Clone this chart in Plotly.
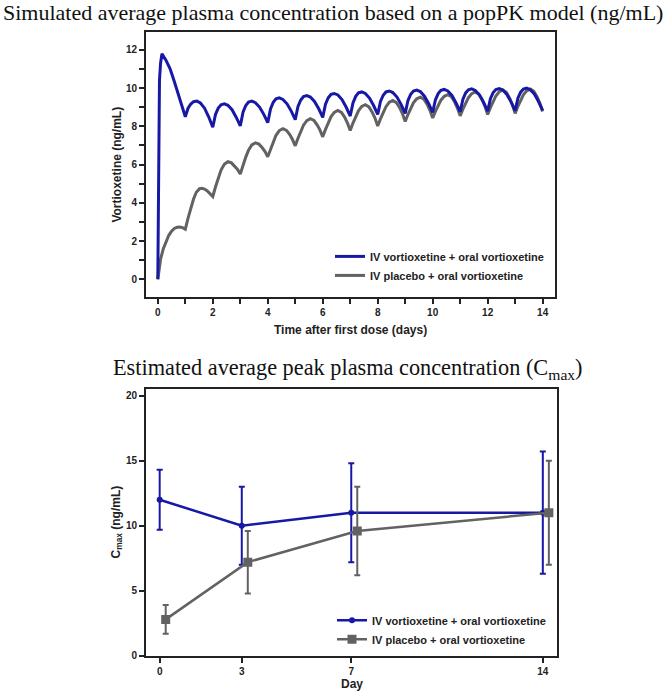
import plotly.graph_objects as go

# ---------------- Data: simulated concentration (top panel) ----------------
t_iv = [0, 0.03, 0.06, 0.1, 0.15, 0.3, 0.45, 0.6, 0.75, 0.9,
        1.0, 1.1, 1.2, 1.3, 1.42, 1.55, 1.7, 1.85,
        2.0, 2.1, 2.2, 2.3, 2.42, 2.55, 2.7, 2.85,
        3.0, 3.1, 3.2, 3.3, 3.42, 3.55, 3.7, 3.85,
        4.0, 4.1, 4.2, 4.3, 4.42, 4.55, 4.7, 4.85,
        5.0, 5.1, 5.2, 5.3, 5.42, 5.55, 5.7, 5.85,
        6.0, 6.1, 6.2, 6.3, 6.42, 6.55, 6.7, 6.85,
        7.0, 7.1, 7.2, 7.3, 7.42, 7.55, 7.7, 7.85,
        8.0, 8.1, 8.2, 8.3, 8.42, 8.55, 8.7, 8.85,
        9.0, 9.1, 9.2, 9.3, 9.42, 9.55, 9.7, 9.85,
        10.0, 10.1, 10.2, 10.3, 10.42, 10.55, 10.7, 10.85,
        11.0, 11.1, 11.2, 11.3, 11.42, 11.55, 11.7, 11.85,
        12.0, 12.1, 12.2, 12.3, 12.42, 12.55, 12.7, 12.85,
        13.0, 13.1, 13.2, 13.3, 13.42, 13.55, 13.7, 13.85,
        14.0]
c_iv = [0, 6.0, 10.4, 11.3, 11.8, 11.45, 11.0, 10.35, 9.65, 8.95,
        8.5, 8.95, 9.17, 9.29, 9.32, 9.22, 8.95, 8.5,
        7.95, 8.63, 8.96, 9.13, 9.18, 9.1, 8.87, 8.48,
        8.02, 8.74, 9.09, 9.27, 9.32, 9.24, 9.01, 8.64,
        8.19, 8.91, 9.26, 9.44, 9.49, 9.41, 9.18, 8.81,
        8.35, 9.04, 9.38, 9.56, 9.61, 9.53, 9.3, 8.93,
        8.47, 9.16, 9.5, 9.67, 9.72, 9.64, 9.4, 9.01,
        8.54, 9.23, 9.57, 9.75, 9.8, 9.72, 9.48, 9.09,
        8.62, 9.3, 9.63, 9.8, 9.85, 9.77, 9.53, 9.15,
        8.68, 9.35, 9.68, 9.85, 9.9, 9.82, 9.58, 9.2,
        8.73, 9.39, 9.71, 9.88, 9.93, 9.85, 9.62, 9.23,
        8.77, 9.42, 9.75, 9.91, 9.96, 9.88, 9.65, 9.26,
        8.8, 9.45, 9.77, 9.93, 9.98, 9.9, 9.67, 9.28,
        8.82, 9.47, 9.79, 9.95, 10.0, 9.92, 9.69, 9.3,
        8.84]

t_pbo = [0, 0.05, 0.1, 0.2, 0.3, 0.4, 0.5, 0.6, 0.7, 0.8, 0.9,
         1.0, 1.1, 1.2, 1.3, 1.4, 1.52, 1.6, 1.7, 1.8, 1.9,
         2.0, 2.1, 2.2, 2.3, 2.42, 2.55, 2.68, 2.8, 2.9,
         3.0, 3.1, 3.2, 3.3, 3.42, 3.55, 3.68, 3.8, 3.9,
         4.0, 4.1, 4.2, 4.3, 4.42, 4.55, 4.68, 4.8, 4.9,
         5.0, 5.1, 5.2, 5.3, 5.42, 5.55, 5.68, 5.8, 5.9,
         6.0, 6.1, 6.2, 6.3, 6.42, 6.55, 6.68, 6.8, 6.9,
         7.0, 7.1, 7.2, 7.3, 7.42, 7.55, 7.68, 7.8, 7.9,
         8.0, 8.1, 8.2, 8.3, 8.42, 8.55, 8.68, 8.8, 8.9,
         9.0, 9.1, 9.2, 9.3, 9.42, 9.55, 9.68, 9.8, 9.9,
         10.0, 10.1, 10.2, 10.3, 10.42, 10.55, 10.68, 10.8, 10.9,
         11.0, 11.1, 11.2, 11.3, 11.42, 11.55, 11.68, 11.8, 11.9,
         12.0, 12.1, 12.2, 12.3, 12.42, 12.55, 12.68, 12.8, 12.9,
         13.0, 13.1, 13.2, 13.3, 13.42, 13.55, 13.68, 13.8, 13.9,
         14.0]
c_pbo = [0, 0.65, 1.05, 1.6, 2.0, 2.3, 2.52, 2.66, 2.72, 2.73, 2.7,
         2.62, 3.2, 3.75, 4.2, 4.55, 4.74, 4.76, 4.72, 4.62, 4.49,
         4.33, 4.84, 5.31, 5.71, 6.02, 6.15, 6.09, 5.93, 5.75,
         5.51, 5.97, 6.39, 6.75, 7.03, 7.14, 7.07, 6.88, 6.68,
         6.41, 6.82, 7.2, 7.53, 7.78, 7.88, 7.79, 7.57, 7.31,
         6.98, 7.38, 7.75, 8.06, 8.3, 8.4, 8.31, 8.07, 7.8,
         7.45, 7.84, 8.2, 8.5, 8.73, 8.83, 8.73, 8.47, 8.17,
         7.79, 8.17, 8.51, 8.81, 9.04, 9.13, 9.02, 8.74, 8.43,
         8.02, 8.39, 8.74, 9.03, 9.26, 9.35, 9.24, 8.97, 8.66,
         8.26, 8.62, 8.95, 9.23, 9.44, 9.53, 9.42, 9.15, 8.84,
         8.44, 8.78, 9.1, 9.37, 9.57, 9.66, 9.55, 9.27, 8.96,
         8.55, 8.9, 9.23, 9.5, 9.71, 9.8, 9.68, 9.39, 9.06,
         8.62, 8.98, 9.31, 9.59, 9.81, 9.9, 9.78, 9.47, 9.13,
         8.68, 9.04, 9.37, 9.65, 9.86, 9.95, 9.83, 9.54, 9.21,
         8.78]

top_xticks = [0, 2, 4, 6, 8, 10, 12, 14]
top_yticks = [0, 2, 4, 6, 8, 10, 12]

# ---------------- Data: Cmax (bottom panel) ----------------
days = [0, 3, 7, 14]
cmax_iv = [12.0, 10.0, 11.0, 11.0]
cmax_iv_sd = [2.3, 3.0, 3.8, 4.7]
cmax_pbo = [2.8, 7.2, 9.6, 11.0]
cmax_pbo_sd = [1.1, 2.4, 3.4, 4.0]
bottom_yticks = [0, 5, 10, 15, 20]

name_iv = "IV vortioxetine + oral vortioxetine"
name_pbo = "IV placebo + oral vortioxetine"

BLUE = "#1818a6"
GRAY = "#626262"
PBO_OFFSET = 0.22  # horizontal offset used to separate the two series

fig = go.Figure()

fig.add_trace(go.Scatter(x=t_pbo, y=c_pbo, mode="lines", name=name_pbo,
                         line=dict(color=GRAY, width=3),
                         xaxis="x", yaxis="y", legend="legend", legendrank=2))
fig.add_trace(go.Scatter(x=t_iv, y=c_iv, mode="lines", name=name_iv,
                         line=dict(color=BLUE, width=3),
                         xaxis="x", yaxis="y", legend="legend", legendrank=1))

fig.add_trace(go.Scatter(x=days, y=cmax_iv, mode="lines+markers", name=name_iv,
                         line=dict(color=BLUE, width=2.5),
                         marker=dict(symbol="circle", size=6, color=BLUE),
                         error_y=dict(type="data", array=cmax_iv_sd, visible=True,
                                      color=BLUE, thickness=2, width=3),
                         xaxis="x2", yaxis="y2", legend="legend2", legendrank=1))
fig.add_trace(go.Scatter(x=[d + PBO_OFFSET for d in days], y=cmax_pbo,
                         mode="lines+markers", name=name_pbo,
                         line=dict(color=GRAY, width=2.5),
                         marker=dict(symbol="square", size=9, color=GRAY),
                         error_y=dict(type="data", array=cmax_pbo_sd, visible=True,
                                      color=GRAY, thickness=2, width=3),
                         xaxis="x2", yaxis="y2", legend="legend2", legendrank=2))

W, H = 666, 699
def px(x):
    return x / W
def py(y):
    return 1 - y / H

tickfont = dict(family="Liberation Sans, Arial, sans-serif", size=10, color="#222", weight="bold")
axis_common = dict(showline=True, linecolor="#222", linewidth=2, mirror=True,
                   ticks="outside", ticklen=5, tickwidth=1.5, tickcolor="#222",
                   showgrid=False, zeroline=False, tickfont=tickfont)

fig.update_layout(
    width=W, height=H,
    margin=dict(l=0, r=0, t=0, b=0),
    paper_bgcolor="white", plot_bgcolor="white",
    xaxis=dict(domain=[px(146), px(555)], anchor="y", range=[-0.43, 14.45],
               tickmode="array", tickvals=top_xticks,
               minor=dict(dtick=1, ticks="outside", ticklen=5, tickwidth=1.5, tickcolor="#222", showgrid=False),
               **axis_common),
    yaxis=dict(domain=[py(300), py(32)], anchor="x", range=[-0.95, 12.95],
               tickmode="array", tickvals=top_yticks,
               minor=dict(dtick=1, ticks="outside", ticklen=5, tickwidth=1.5, tickcolor="#222", showgrid=False),
               **axis_common),
    xaxis2=dict(domain=[px(146), px(556.5)], anchor="y2", range=[-0.5, 14.5],
                tickmode="array", tickvals=days, **axis_common),
    yaxis2=dict(domain=[py(661.5), py(392.5)], anchor="x2", range=[0, 20.5],
                tickmode="array", tickvals=bottom_yticks, **axis_common),
    legend=dict(x=px(330), y=py(244), xanchor="left", yanchor="top",
                bgcolor="rgba(0,0,0,0)", traceorder="normal",
                font=dict(family="Liberation Sans, Arial, sans-serif", size=11, color="#222", weight="bold")),
    legend2=dict(x=px(332), y=py(611), xanchor="left", yanchor="top",
                 bgcolor="rgba(0,0,0,0)", traceorder="normal",
                 font=dict(family="Liberation Sans, Arial, sans-serif", size=11, color="#222", weight="bold")),
)

title_font = dict(family="Liberation Serif, Times New Roman, serif", size=22, color="#111")
label_font = dict(family="Liberation Sans, Arial, sans-serif", size=12, color="#222")

annotations = [
    dict(text="Simulated average plasma concentration based on a popPK model (ng/mL)",
         x=0.5, y=py(13), xref="paper", yref="paper", xanchor="center", yanchor="middle",
         showarrow=False, font=title_font),
    dict(text="Estimated average peak plasma concentration (C<sub>max</sub>)",
         x=px(348), y=py(372), xref="paper", yref="paper", xanchor="center", yanchor="middle",
         showarrow=False, font=dict(family="Liberation Serif, Times New Roman, serif", size=22.3, color="#111")),
    dict(text="<b>Vortioxetine (ng/mL)</b>", x=px(117), y=py(166), xref="paper", yref="paper",
         xanchor="center", yanchor="middle", textangle=-90, showarrow=False, font=label_font),
    dict(text="<b>Time after first dose (days)</b>", x=px(350.5), y=py(333), xref="paper", yref="paper",
         xanchor="center", yanchor="middle", showarrow=False, font=label_font),
    dict(text="<b>C<sub>max</sub> (ng/mL)</b>", x=px(117), y=py(527), xref="paper", yref="paper",
         xanchor="center", yanchor="middle", textangle=-90, showarrow=False, font=label_font),
    dict(text="<b>Day</b>", x=px(351.5), y=py(690), xref="paper", yref="paper",
         xanchor="center", yanchor="middle", showarrow=False, font=label_font),
]
fig.update_layout(annotations=annotations)

fig.write_html("out.html",
               config={"displayModeBar": False},
               post_script="document.body.style.margin='0';document.body.style.overflow='hidden';")
